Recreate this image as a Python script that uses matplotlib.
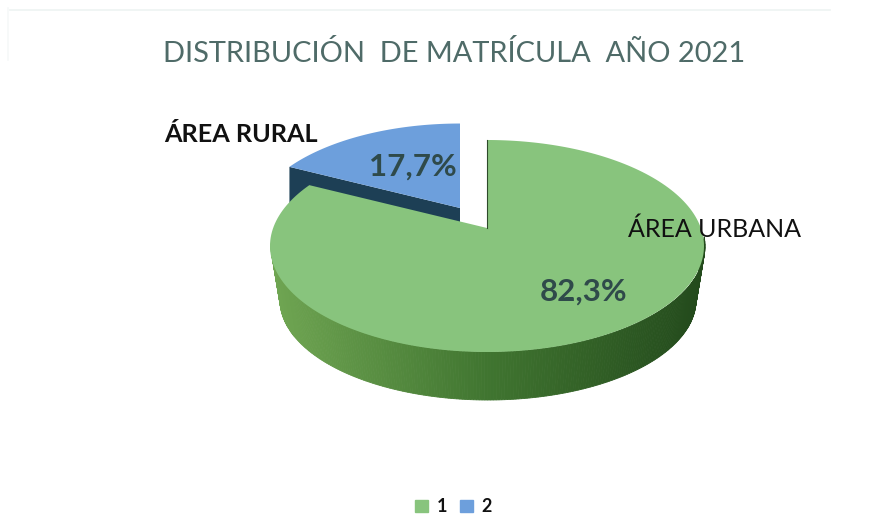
import matplotlib
matplotlib.use('Agg')
import matplotlib.pyplot as plt
from matplotlib.colors import to_rgb
import numpy as np

labels = ['ÁREA URBANA', 'ÁREA RURAL']
values = [82.3, 17.7]
pct_labels = ['82,3%', '17,7%']
legend_labels = ['1', '2']
colors = ['#88c47d', '#6d9fdc']
side_color_blue = '#1d3f55'

plt.rcParams['font.family'] = ['Lato', 'DejaVu Sans']

fig = plt.figure(figsize=(8.84, 5.32), dpi=100, facecolor='white')
ax = fig.add_axes([0, 0, 1, 1])
ax.set_xlim(0, 884)
ax.set_ylim(532, 0)
ax.axis('off')

# faint frame left over from the scan
ax.plot([10, 830], [10, 10], color='#edf3f2', lw=1.2)
ax.plot([8, 8], [8, 60], color='#f6f8f8', lw=1.2)

cx, cy = 488, 246
rx, ry = 217, 106
apex_x, apex_y = 487, 228
depth = 48
angles = np.cumsum([0] + values) * 3.6


def rim(a0, a1, n=200):
    # rim points of a slice, rays leave from the apex (which sits above the ellipse centre)
    t = np.radians(np.linspace(a0, a1, n))
    dx, dy = rx * np.sin(t), -ry * np.cos(t)
    off = apex_y - cy
    A = (dx / rx) ** 2 + (dy / ry) ** 2
    B = 2 * dy * off / ry ** 2
    C = (off / ry) ** 2 - 1
    k = (-B + np.sqrt(B ** 2 - 4 * A * C)) / (2 * A)
    return k * dx, k * dy


# blue slice goes first, the green one hides the lower part of its side
bx, by = 460, 208
scale = 0.96
rx_b, ry_b = rim(angles[1], angles[2])
xs = bx + scale * rx_b
ys = by + scale * ry_b
ax.fill([bx, xs[0], xs[0], bx], [by, ys[0], ys[0] + depth, by + depth], color=side_color_blue, lw=0)
ax.fill(np.r_[bx, xs], np.r_[by, ys], color=colors[1], lw=0)

# side of the green slice, shaded along the rim, lower ellipse a bit smaller
t = np.linspace(np.radians(angles[0] + 85), np.radians(angles[1] - 25), 240)
stops = [np.array(to_rgb(c)) for c in ['#6fa552', '#407530', '#234a1c']]
for a, b in zip(t[:-1], t[1:]):
    xq = np.r_[cx + rx * np.sin([a, b]), cx + 208 * np.sin([b, a])]
    yq = np.r_[cy - ry * np.cos([a, b]), 300 - 100 * np.cos([b, a])]
    s = np.sin((a + b) / 2)
    if s < 0:
        col = stops[1] * (1 + s) + stops[0] * -s
    else:
        col = stops[1] * (1 - s) + stops[2] * s
    ax.fill(xq, yq, color=col, lw=0.6)

# green top
gx, gy = rim(angles[0], angles[1])
ax.fill(np.r_[apex_x, apex_x + gx], np.r_[apex_y, apex_y + gy], color=colors[0], lw=0)
ax.plot([apex_x, apex_x], [apex_y, cy - ry], color='#2d4a2a', lw=0.8)

ax.text(454, 54, 'DISTRIBUCIÓN  DE MATRÍCULA  AÑO 2021', ha='center', va='center', fontsize=20.9, color='#4f6b68')
ax.text(241, 134, labels[1], ha='center', va='center', fontsize=18.2, color='#111111', fontweight='bold')
ax.text(714, 229, labels[0], ha='center', va='center', fontsize=18, color='#111111')
ax.text(413, 167, pct_labels[1], ha='center', va='center', fontsize=22.5, color='#2f4a4a', fontweight='bold')
ax.text(584, 292, pct_labels[0], ha='center', va='center', fontsize=22.5, color='#2f4a4a', fontweight='bold')

handles = [plt.Rectangle((0, 0), 1, 1, color=c) for c in colors]
leg = ax.legend(handles, legend_labels, loc='center', bbox_to_anchor=(0.513, 0.047), ncol=2, frameon=False,
                handlelength=0.7, handleheight=0.7, columnspacing=0.7, handletextpad=0.5,
                labelcolor='#111111', prop={'size': 13, 'weight': 'bold'})

fig.savefig('out.png', dpi=100)
